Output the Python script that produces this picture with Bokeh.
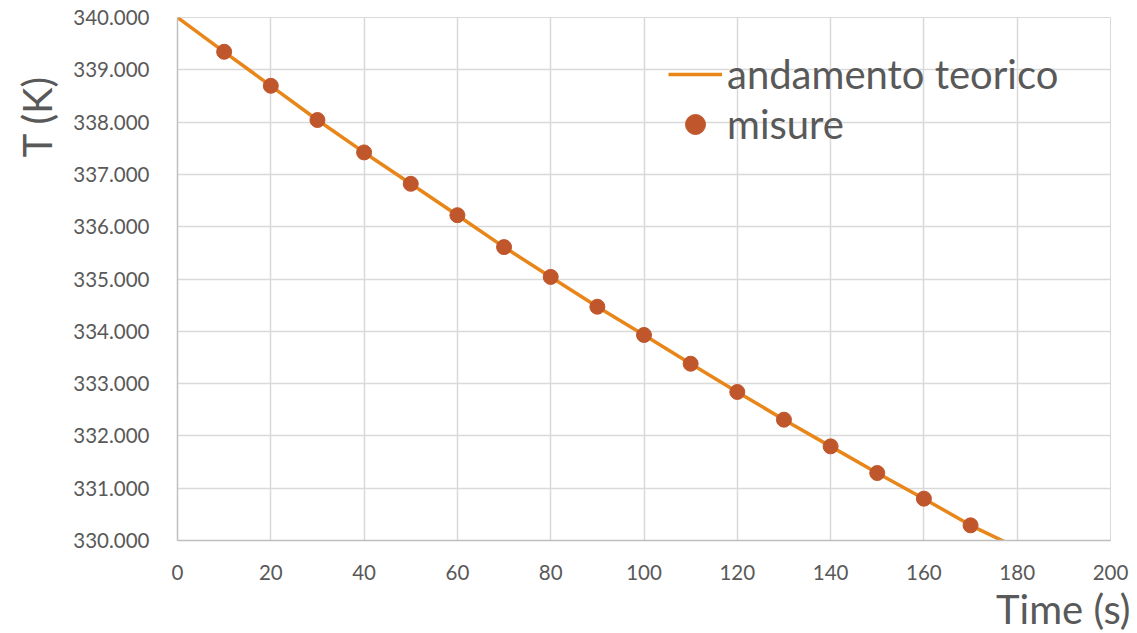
from bokeh.plotting import figure
from bokeh.models import (FixedTicker, NumeralTickFormatter, Range1d, Legend,
                          LegendItem, Title)
from bokeh.embed import file_html
from bokeh.resources import INLINE

# Data
t_theory = [0, 10, 20, 30, 40, 50, 60, 70, 80, 90, 100, 110, 120, 130, 140, 150, 160, 170, 180]
T_theory = [340.00, 339.344, 338.694, 338.04, 337.42, 336.82, 336.22, 335.61, 335.04, 334.47,
            333.93, 333.38, 332.84, 332.31, 331.80, 331.29, 330.80, 330.29, 329.86]
t_meas = [10, 20, 30, 40, 50, 60, 70, 80, 90, 100, 110, 120, 130, 140, 150, 160, 170]
T_meas = [339.344, 338.694, 338.04, 337.42, 336.82, 336.22, 335.61, 335.04, 334.47,
          333.93, 333.38, 332.84, 332.31, 331.80, 331.29, 330.80, 330.29]
x_ticks = [0, 20, 40, 60, 80, 100, 120, 140, 160, 180, 200]
y_ticks = [330, 331, 332, 333, 334, 335, 336, 337, 338, 339, 340]
x_title = "Time (s)"
y_title = "T (K)"
legend_labels = ["andamento teorico", "misure"]

FONT = "Lato"
GRAY = "#595959"
LINE_C = "#E8861A"
PT_C = "#C0562B"

p = figure(width=1137, height=633, output_backend="svg", toolbar_location=None,
           x_range=Range1d(0, 200), y_range=Range1d(330, 340),
           min_border_left=177, min_border_right=27, min_border_top=17, min_border_bottom=93)
p.background_fill_color = "white"
p.border_fill_color = "white"
p.outline_line_color = "#D9D9D9"

l = p.line(t_theory, T_theory, line_color=LINE_C, line_width=3.5)
c = p.scatter(t_meas, T_meas, size=15, fill_color=PT_C, line_color=PT_C)

for ax in (p.xaxis[0], p.yaxis[0]):
    ax.major_tick_line_color = None
    ax.minor_tick_line_color = None
    ax.major_label_text_font = FONT
    ax.major_label_text_font_size = "20.5px"
    ax.major_label_text_color = GRAY
    ax.axis_line_color = "#BFBFBF"
    ax.axis_line_width = 1.5

p.xaxis.ticker = FixedTicker(ticks=x_ticks)
p.yaxis.ticker = FixedTicker(ticks=y_ticks)
p.yaxis.formatter = NumeralTickFormatter(format="0.000")
p.xaxis.major_label_standoff = 18
p.yaxis.major_label_standoff = 22

p.xgrid.ticker = FixedTicker(ticks=x_ticks)
p.ygrid.ticker = FixedTicker(ticks=y_ticks)
p.xgrid.grid_line_color = "#D9D9D9"
p.ygrid.grid_line_color = "#D9D9D9"
p.xgrid.grid_line_width = 1.5
p.ygrid.grid_line_width = 1.5

# Axis titles
xt = Title(text=x_title, align="right", offset=-20, text_font=FONT, standoff=0,
           text_font_size="40px", text_color=GRAY, text_font_style="normal")
p.add_layout(xt, "below")
yt = Title(text=y_title, align="right", offset=58, text_font=FONT, standoff=20,
           text_font_size="40px", text_color=GRAY, text_font_style="normal")
p.add_layout(yt, "left")

legend = Legend(items=[LegendItem(label=legend_labels[0], renderers=[l]),
                       LegendItem(label=legend_labels[1], renderers=[c])],
                location=(491, 391), orientation="vertical")
legend.background_fill_alpha = 0
legend.border_line_alpha = 0
legend.padding = 0
legend.margin = 0
legend.spacing = 0
legend.glyph_width = 54
legend.glyph_height = 50
legend.label_height = 50
legend.label_standoff = 5
legend.label_text_font = FONT
legend.label_text_font_size = "40px"
legend.label_text_color = GRAY
legend.label_text_baseline = "middle"
p.add_layout(legend, "center")

open("out.html", "w").write(file_html(p, INLINE))
